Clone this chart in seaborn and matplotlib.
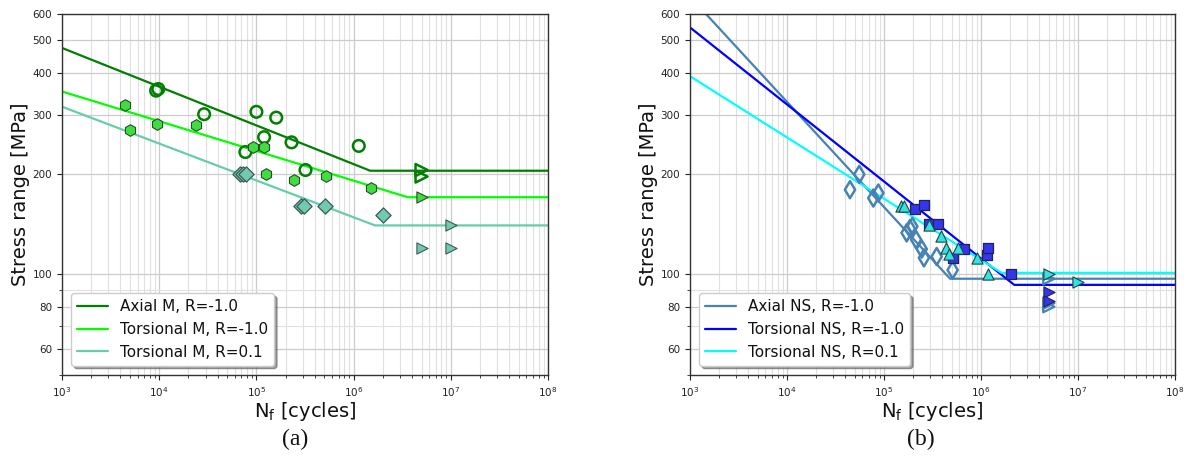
import numpy as np
import pandas as pd
import matplotlib
matplotlib.use("Agg")
import matplotlib.pyplot as plt
import matplotlib.ticker as mticker
import seaborn as sns

# ---------------- Panel (a): M specimens ----------------
axial_m_N = [9.3e3, 9.8e3, 2.9e4, 1.0e5, 1.6e5, 1.2e5, 2.3e5, 7.7e4, 1.13e6, 3.2e5]
axial_m_S = [354, 358, 301, 306, 294, 257, 248, 232, 242, 205]
axial_m_run_N = [5e6, 5e6]
axial_m_run_S = [205, 196]

tors_m_N = [4.4e3, 5.0e3, 9.5e3, 2.4e4, 9.3e4, 1.2e5, 1.26e5, 2.44e5, 5.2e5, 1.5e6]
tors_m_S = [321, 270, 281, 279, 240, 241, 200, 191, 197, 181]
tors_m_run_N = [5e6]
tors_m_run_S = [170]

tors_m01_N = [6.8e4, 7.2e4, 7.8e4, 2.88e5, 3.1e5, 5.1e5, 2.0e6]
tors_m01_S = [200, 200, 200, 160, 160, 160, 150]
tors_m01_run_N = [1e7, 5e6, 1e7]
tors_m01_run_S = [140, 120, 120]

# S-N design curves (start, knee, end)
axial_m_curve_N = [1e3, 1.48e6, 1e8]
axial_m_curve_S = [475, 204, 204]
tors_m_curve_N = [1e3, 3.6e6, 1e8]
tors_m_curve_S = [352, 170, 170]
tors_m01_curve_N = [1e3, 1.66e6, 1e8]
tors_m01_curve_S = [317, 140, 140]

# ---------------- Panel (b): NS specimens ----------------
axial_ns_N = [4.46e4, 5.56e4, 7.76e4, 8.74e4, 1.71e5, 1.85e5, 1.96e5, 2.14e5,
              2.45e5, 2.58e5, 3.49e5, 5.1e5]
axial_ns_S = [179, 199, 169, 175, 133, 137, 139, 127, 119, 112, 113, 103]
axial_ns_run_N = [5e6, 5e6, 5e6]
axial_ns_run_S = [97, 82, 80]

tors_ns_N = [2.09e5, 2.58e5, 2.91e5, 3.63e5, 5.1e5, 6.7e5, 1.15e6, 1.19e6, 2.02e6]
tors_ns_S = [157, 161, 141, 141, 112, 119, 114, 120, 100]
tors_ns_run_N = [5e6, 5e6]
tors_ns_run_S = [88.7, 83.4]

tors_ns01_N = [1.5e5, 1.6e5, 2.93e5, 3.87e5, 4.36e5, 4.7e5, 5.8e5, 9.0e5, 1.19e6]
tors_ns01_S = [160, 160, 140, 130, 120, 115, 120, 112, 100]
tors_ns01_run_N = [5e6, 1e7]
tors_ns01_run_S = [100, 95]

axial_ns_curve_N = [1e3, 4.8e5, 1e8]
axial_ns_curve_S = [676, 97, 97]
tors_ns_curve_N = [1e3, 2.2e6, 1e8]
tors_ns_curve_S = [547, 93, 93]
tors_ns01_curve_N = [1e3, 1.63e6, 1e8]
tors_ns01_curve_S = [391, 101, 101]

y_tick_labels = [60, 80, 100, 200, 300, 400, 500, 600]
y_unlabeled = [50, 70, 90]

sns.set_style("ticks")
plt.rcParams['font.family'] = ['DejaVu Sans']
plt.rcParams['text.color'] = '#111111'
plt.rcParams['axes.labelcolor'] = '#111111'
plt.rcParams['xtick.color'] = '#222222'
plt.rcParams['ytick.color'] = '#222222'

fig = plt.figure(figsize=(11.87, 4.68), dpi=100)
ax_a = fig.add_axes([0.0522, 0.1987, 0.4095, 0.7714])
ax_b = fig.add_axes([0.5813, 0.1987, 0.4086, 0.7714])


def style_axes(ax):
    ax.set_xscale("log")
    ax.set_yscale("log")
    ax.set_xlim(1e3, 1e8)
    ax.set_ylim(50, 600)
    ax.yaxis.set_major_locator(mticker.FixedLocator(y_tick_labels))
    ax.yaxis.set_major_formatter(mticker.FixedFormatter([str(v) for v in y_tick_labels]))
    ax.yaxis.set_minor_locator(mticker.FixedLocator(y_unlabeled))
    ax.yaxis.set_minor_formatter(mticker.NullFormatter())
    ax.xaxis.set_major_locator(mticker.LogLocator(base=10, numticks=10))
    ax.xaxis.set_minor_locator(mticker.LogLocator(base=10, subs=np.arange(2, 10), numticks=20))
    ax.xaxis.set_minor_formatter(mticker.NullFormatter())
    ax.grid(which="major", color="#cccccc", lw=0.9)
    ax.grid(which="minor", color="#e0e0e0", lw=0.8)
    ax.tick_params(which="major", labelsize=7.5, length=3.5, width=0.8)
    ax.tick_params(which="minor", length=2, width=0.6)
    for sp in ax.spines.values():
        sp.set_color("#333333")
        sp.set_linewidth(1.0)
    ax.set_xlabel(r"N$_\mathrm{f}$ [cycles]", fontsize=14, labelpad=1)
    ax.set_ylabel("Stress range [MPa]", fontsize=14, labelpad=2)
    ax.set_axisbelow(True)


def curve(ax, N, S, color, label):
    sns.lineplot(x=N, y=S, ax=ax, color=color, lw=1.6, label=label,
                 estimator=None, sort=False)


def points(ax, N, S, marker, s, fc, ec, lw=1.0, z=3):
    sns.scatterplot(x=N, y=S, ax=ax, marker=marker, s=s, facecolor=fc,
                    edgecolor=ec, linewidth=lw, legend=False, zorder=z)


style_axes(ax_a)
style_axes(ax_b)

# ---- panel (a)
curve(ax_a, axial_m_curve_N, axial_m_curve_S, "green", "Axial M, R=-1.0")
curve(ax_a, tors_m_curve_N, tors_m_curve_S, "lime", "Torsional M, R=-1.0")
curve(ax_a, tors_m01_curve_N, tors_m01_curve_S, "mediumaquamarine", "Torsional M, R=0.1")

points(ax_a, axial_m_N, axial_m_S, "o", 70, "none", "green", lw=1.8)
points(ax_a, axial_m_run_N, axial_m_run_S, ">", 75, "none", "green", lw=1.8)
points(ax_a, tors_m_N, tors_m_S, "h", 70, "#3fde3f", "#2c4a2c", lw=0.8)
points(ax_a, tors_m_run_N, tors_m_run_S, ">", 65, "#3fde3f", "#2c4a2c", lw=0.8)
points(ax_a, tors_m01_N, tors_m01_S, "D", 60, "#72c9b2", "#3c5a52", lw=0.9)
points(ax_a, tors_m01_run_N, tors_m01_run_S, ">", 65, "#72c9b2", "#3c5a52", lw=0.8)

# ---- panel (b)
curve(ax_b, axial_ns_curve_N, axial_ns_curve_S, "steelblue", "Axial NS, R=-1.0")
curve(ax_b, tors_ns_curve_N, tors_ns_curve_S, "blue", "Torsional NS, R=-1.0")
curve(ax_b, tors_ns01_curve_N, tors_ns01_curve_S, "cyan", "Torsional NS, R=0.1")

points(ax_b, axial_ns_N, axial_ns_S, "d", 75, "none", "steelblue", lw=1.8)
points(ax_b, axial_ns_run_N, axial_ns_run_S, ">", 65, "none", "steelblue", lw=1.6)
points(ax_b, tors_ns_N, tors_ns_S, "s", 60, "#3535ee", "#222255", lw=0.9)
points(ax_b, tors_ns_run_N, tors_ns_run_S, ">", 65, "#3535ee", "#222255", lw=0.8)
points(ax_b, tors_ns01_N, tors_ns01_S, "^", 65, "#33e3e3", "#224444", lw=0.8)
points(ax_b, tors_ns01_run_N, tors_ns01_run_S, ">", 65, "#33e3e3", "#224444", lw=0.8)

for ax in (ax_a, ax_b):
    ax.legend(loc="lower left", fontsize=11, frameon=True, shadow=True,
              fancybox=True, framealpha=1.0, borderaxespad=0.6)

fig.text(0.249, 0.06, "(a)", ha="center", va="center", fontsize=17,
         family="Liberation Serif")
fig.text(0.776, 0.06, "(b)", ha="center", va="center", fontsize=17,
         family="Liberation Serif")

fig.savefig("out.png", dpi=100)
